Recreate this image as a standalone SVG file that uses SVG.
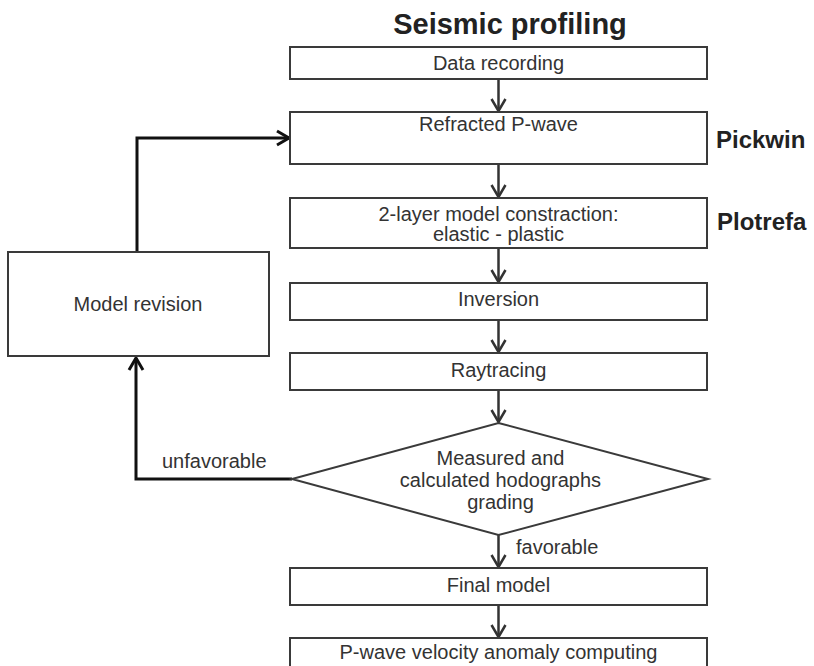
<svg xmlns="http://www.w3.org/2000/svg" width="814" height="666" viewBox="0 0 814 666">
<defs>
<marker id="arr" markerUnits="userSpaceOnUse" markerWidth="20" markerHeight="20" viewBox="-14 -10 16 20" refX="0" refY="0" orient="auto">
<path d="M-12,-7 L0,0 L-12,7" fill="none" stroke="#333" stroke-width="2.5"/>
</marker>
<marker id="arrB" markerUnits="userSpaceOnUse" markerWidth="24" markerHeight="24" viewBox="-14 -12 16 24" refX="0" refY="0" orient="auto">
<path d="M-12,-7 L0,0 L-12,7" fill="none" stroke="#111" stroke-width="3"/>
</marker>
</defs>
<style>
.box{fill:#fff;stroke:#3a3a3a;stroke-width:2}
.t{font-family:"Liberation Sans",Arial,sans-serif;font-size:20px;fill:#333;text-anchor:middle}
.b{font-family:"Liberation Sans",Arial,sans-serif;font-weight:bold;fill:#222}
.c{fill:none;stroke:#333;stroke-width:2.5}
.loop{fill:none;stroke:#111;stroke-width:3}
</style>
<rect width="814" height="666" fill="#fff"/>
<text class="b" x="510" y="34" font-size="29" text-anchor="middle">Seismic profiling</text>
<text class="b" x="716" y="148" font-size="24">Pickwin</text>
<text class="b" x="717" y="230" font-size="24">Plotrefa</text>
<g id="connectors">
<path class="c" d="M498.5,79 V111" marker-end="url(#arr)"/>
<path class="c" d="M498.5,164 V197" marker-end="url(#arr)"/>
<path class="c" d="M498.5,248 V282" marker-end="url(#arr)"/>
<path class="c" d="M498.5,320 V352" marker-end="url(#arr)"/>
<path class="c" d="M498.5,390 V422" marker-end="url(#arr)"/>
<path class="c" d="M498.5,535 V567" marker-end="url(#arr)"/>
<path class="c" d="M498.5,605 V637" marker-end="url(#arr)"/>
<path class="loop" d="M292,479 H136 V358" marker-end="url(#arrB)"/>
<path class="loop" d="M137,252 V138 H289" marker-end="url(#arrB)"/>
<text class="t" x="162" y="468" style="text-anchor:start">unfavorable</text>
<text class="t" x="516" y="554" style="text-anchor:start">favorable</text>
</g>
<g id="data-recording">
<rect class="box" x="290" y="47" width="417" height="32"/>
<text class="t" x="498.5" y="70">Data recording</text>
</g>
<g id="refracted">
<rect class="box" x="290" y="112" width="417" height="52"/>
<text class="t" x="498.5" y="131">Refracted P-wave</text>
</g>
<g id="two-layer">
<rect class="box" x="290" y="198" width="417" height="50"/>
<text class="t" x="498.5" y="221">2-layer model constraction:</text>
<text class="t" x="498.5" y="241">elastic - plastic</text>
</g>
<g id="inversion">
<rect class="box" x="290" y="283" width="417" height="37"/>
<text class="t" x="498.5" y="306">Inversion</text>
</g>
<g id="raytracing">
<rect class="box" x="290" y="353" width="417" height="37"/>
<text class="t" x="498.5" y="377">Raytracing</text>
</g>
<g id="grading">
<polygon class="box" points="498.5,423 708,479 498.5,535 292,479"/>
<text class="t" x="500.5" y="465">Measured and</text>
<text class="t" x="500.5" y="487">calculated hodographs</text>
<text class="t" x="500.5" y="509">grading</text>
</g>
<g id="final-model">
<rect class="box" x="290" y="568" width="417" height="37"/>
<text class="t" x="498.5" y="592">Final model</text>
</g>
<g id="anomaly">
<rect class="box" x="290" y="638" width="417" height="40"/>
<text class="t" x="498.5" y="659">P-wave velocity anomaly computing</text>
</g>
<g id="model-revision">
<rect class="box" x="8" y="252" width="261" height="104"/>
<text class="t" x="138" y="311">Model revision</text>
</g>
</svg>
